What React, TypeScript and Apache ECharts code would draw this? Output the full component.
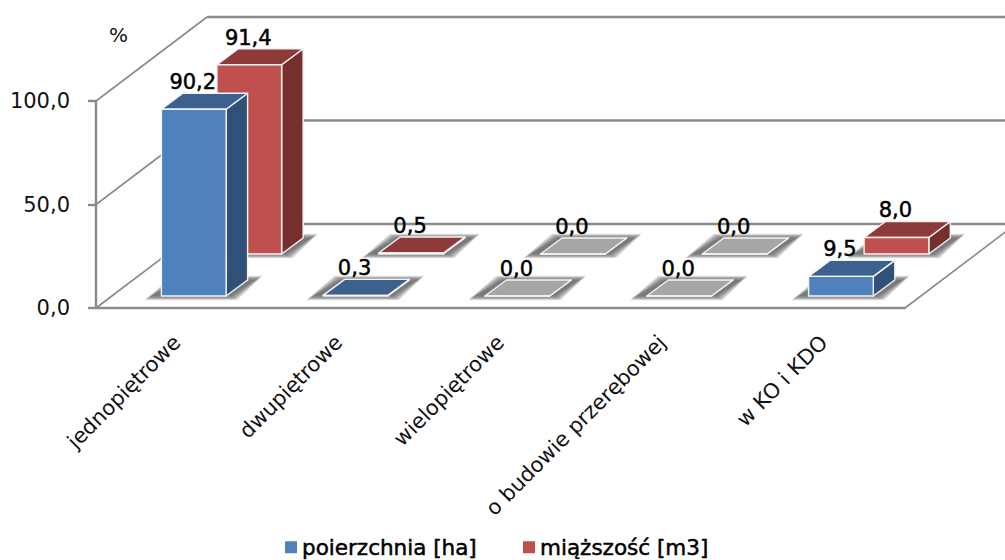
import React, { useEffect, useRef } from "react";
import * as echarts from "echarts";

const categories = ["jednopiętrowe", "dwupiętrowe", "wielopiętrowe", "o budowie przerębowej", "w KO i KDO"];
const surfaceValues = [90.2, 0.3, 0.0, 0.0, 9.5];
const volumeValues = [91.4, 0.5, 0.0, 0.0, 8.0];
const gridValues = [0, 50, 100];
const seriesNames = ["poierzchnia [ha]", "miąższość [m3]"];

const FONT = "'DejaVu Sans'";
const AXIS = "#8a8a8a";
const DEPTH_X = 21.5;
const DEPTH_Y = 16;
const WALL_X = 111;
const WALL_Y = 84;
const SHADOW_LAYERS = [7, 6, 5, 4, 3, 2, 1, 0];
const GREY = { front: "#a6a6a6", top: "#a6a6a6", side: "#a6a6a6" };
const BLUE = { front: "#4f81bd", top: "#3c618f", side: "#305278" };
const RED = { front: "#c0504d", top: "#8e3a38", side: "#772f2d" };

const fmt = (v: number) => v.toFixed(1).replace(".", ",");

function barRenderer(pal: typeof BLUE, offsetX: number, liftY: number) {
  return (_p: any, api: any) => {
    const i = api.value(0);
    const v = api.value(1);
    const band = api.size([1, 0])[0];
    const cx = api.coord([i, 0])[0];
    const x0 = cx + offsetX;
    const x1 = x0 + band * 0.4;
    const yb = api.coord([i, 0])[1] - liftY;
    const yt = yb - (api.coord([i, 0])[1] - api.coord([i, v])[1]);
    const p = v === 0 ? GREY : pal;
    const edge = { stroke: "#f4f4f4", lineWidth: 1.4, lineJoin: "round" };
    const dx = DEPTH_X;
    const dy = DEPTH_Y;
    const shadow = SHADOW_LAYERS.map((g) => ({
      type: "polygon",
      shape: {
        points: [
          [x0 - 10 - g, yb + g * 0.6],
          [x1 + 4 + g, yb + g * 0.6],
          [x1 + dx + 8 + g, yb - dy - g * 0.6],
          [x0 + 18 - g, yb - dy - g * 0.6],
        ],
      },
      style: { fill: "rgba(80,80,80,0.16)" },
    }));
    const children: any[] = [
      ...shadow,
      {
        type: "polygon",
        shape: { points: [[x1, yb], [x1 + dx, yb - dy], [x1 + dx, yt - dy], [x1, yt]] },
        style: { fill: p.side, ...edge },
      },
      {
        type: "polygon",
        shape: { points: [[x0, yt], [x1, yt], [x1 + dx, yt - dy], [x0 + dx, yt - dy]] },
        style: { fill: p.top, ...edge },
      },
      {
        type: "rect",
        shape: { x: x0, y: yt, width: x1 - x0, height: yb - yt },
        style: { fill: p.front, ...edge },
      },
      {
        type: "text",
        x: (x0 + x1) / 2 - 1,
        y: yt - dy - 11,
        style: {
          text: fmt(v),
          fill: "#000",
          font: `21px ${FONT}`,
          align: "center",
          verticalAlign: "middle",
          stroke: "#000",
          lineWidth: 0.5,
        },
      },
    ];
    return { type: "group", children };
  };
}

function gridRenderer(p: any, api: any) {
  const v = api.value(1);
  const sys = p.coordSys;
  const y = api.coord([0, v])[1];
  const x = sys.x;
  const line = { stroke: AXIS, lineWidth: 1.6, fill: null };
  const children: any[] = [
    {
      type: "line",
      shape: { x1: x, y1: y, x2: x + WALL_X, y2: y - WALL_Y },
      style: line,
    },
    {
      type: "line",
      shape: { x1: x + WALL_X, y1: y - WALL_Y, x2: sys.x + sys.width + WALL_X, y2: y - WALL_Y },
      style: { ...line, lineWidth: 2.4 },
    },
  ];
  if (v === 0) {
    children.push({
      type: "line",
      shape: { x1: sys.x + sys.width, y1: y, x2: sys.x + sys.width + WALL_X, y2: y - WALL_Y },
      style: line,
    });
  }
  return { type: "group", children };
}

export default function App() {
  const ref = useRef<HTMLDivElement>(null);
  useEffect(() => {
    const chart = echarts.init(ref.current!, undefined, { renderer: "svg" });
    chart.setOption({
      animation: false,
      backgroundColor: "#fff",
      grid: { left: 96, right: 100, top: 101, bottom: 252 },
      legend: {
        left: 280,
        top: 531,
        itemWidth: 12,
        itemHeight: 12,
        itemGap: 46,
        icon: "rect",
        data: seriesNames,
        textStyle: {
          fontFamily: FONT,
          fontSize: 21.5,
          color: "#000",
          textBorderColor: "#000",
          textBorderWidth: 0.5,
        },
      },
      xAxis: {
        type: "category",
        data: categories,
        axisLine: { lineStyle: { color: AXIS, width: 2.4 } },
        axisTick: { length: 7, lineStyle: { color: AXIS, width: 2.4 } },
        axisLabel: { interval: 0, rotate: 45, margin: 31, fontFamily: FONT, fontSize: 21, color: "#111" },
      },
      yAxis: {
        type: "value",
        min: 0,
        max: 100,
        interval: 50,
        splitLine: { show: false },
        axisLine: { show: true, lineStyle: { color: AXIS, width: 2.4 } },
        axisTick: { show: true, length: 8, lineStyle: { color: AXIS, width: 2.4 } },
        axisLabel: { margin: 26, fontFamily: FONT, fontSize: 21, color: "#111", formatter: (v: number) => fmt(v) },
      },
      graphic: [
        {
          type: "text",
          x: 109,
          y: 25,
          style: { text: "%", font: `20px ${FONT}`, fill: "#111" },
        },
      ],
      series: [
        {
          type: "custom",
          name: "grid",
          silent: true,
          clip: false,
          z: 1,
          renderItem: gridRenderer,
          data: gridValues.map((v) => [0, v]),
        },
        {
          type: "custom",
          name: seriesNames[1],
          silent: true,
          clip: false,
          z: 2,
          itemStyle: { color: RED.front },
          renderItem: barRenderer(RED, 40, 54),
          data: volumeValues.map((v, i) => [i, v]),
        },
        {
          type: "custom",
          name: seriesNames[0],
          silent: true,
          clip: false,
          z: 3,
          itemStyle: { color: BLUE.front },
          renderItem: barRenderer(BLUE, -15.5, 12),
          data: surfaceValues.map((v, i) => [i, v]),
        },
      ],
    });
    return () => chart.dispose();
  }, []);
  return <div ref={ref} style={{ position: "absolute", left: 0, top: 0, width: 1005, height: 560 }} />;
}
